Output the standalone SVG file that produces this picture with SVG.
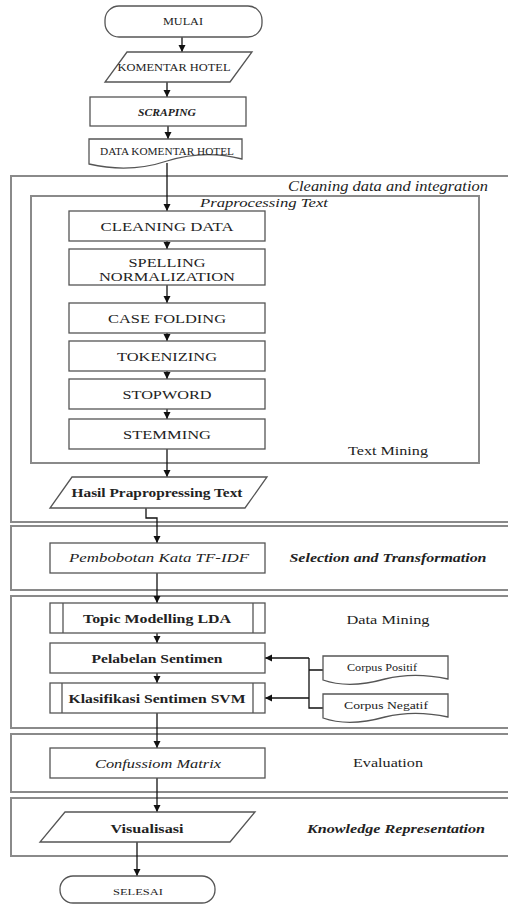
<svg xmlns="http://www.w3.org/2000/svg" width="508" height="904" viewBox="0 0 508 904">
<defs>
<style>
.frame{fill:none;stroke:#8a8a8a;stroke-width:2}
.box{fill:#fff;stroke:#555;stroke-width:1.3}
.t{font-family:"Liberation Serif","Times New Roman",serif;fill:#222;text-anchor:middle}
.b{font-weight:bold}
.i{font-style:italic}
.c{fill:none;stroke:#111;stroke-width:1.3}
</style>
<marker id="ah" markerUnits="userSpaceOnUse" markerWidth="8" markerHeight="8" refX="7" refY="4" orient="auto">
<path d="M0,0.5 L7,4 L0,7.5 Z" fill="#111"/>
</marker>
</defs>
<rect width="508" height="904" fill="#fff"/>

<g id="frames">
<rect class="frame" x="11" y="176" width="510" height="346"/>
<rect class="frame" x="31" y="196" width="448" height="267"/>
<rect class="frame" x="11" y="526" width="510" height="64"/>
<rect class="frame" x="11" y="596" width="510" height="132"/>
<rect class="frame" x="11" y="734" width="510" height="58"/>
<rect class="frame" x="11" y="798" width="510" height="58"/>
<text class="t i" x="388" y="191" font-size="14" textLength="200" lengthAdjust="spacingAndGlyphs">Cleaning data and integration</text>
<rect x="198" y="197" width="132" height="11" fill="#fff"/>
<text class="t i" x="264" y="207" font-size="13.5" textLength="128" lengthAdjust="spacingAndGlyphs">Praprocessing Text</text>
<text class="t" x="388" y="455" font-size="13" textLength="80" lengthAdjust="spacingAndGlyphs">Text Mining</text>
<text class="t i b" x="388" y="562" font-size="13" textLength="197" lengthAdjust="spacingAndGlyphs">Selection and Transformation</text>
<text class="t" x="388" y="624" font-size="13" textLength="83" lengthAdjust="spacingAndGlyphs">Data Mining</text>
<text class="t" x="388" y="767" font-size="13" textLength="70" lengthAdjust="spacingAndGlyphs">Evaluation</text>
<text class="t i b" x="396" y="833" font-size="13" textLength="178" lengthAdjust="spacingAndGlyphs">Knowledge Representation</text>
</g>

<g id="connectors">
<line class="c" x1="182" y1="37" x2="182" y2="52" marker-end="url(#ah)"/>
<line class="c" x1="167" y1="82" x2="167" y2="97" marker-end="url(#ah)"/>
<line class="c" x1="168" y1="126" x2="168" y2="139" marker-end="url(#ah)"/>
<line class="c" x1="167" y1="163" x2="167" y2="211" marker-end="url(#ah)"/>
<line class="c" x1="167" y1="241" x2="167" y2="249" marker-end="url(#ah)"/>
<line class="c" x1="167" y1="285" x2="167" y2="303" marker-end="url(#ah)"/>
<line class="c" x1="167" y1="333" x2="167" y2="341" marker-end="url(#ah)"/>
<line class="c" x1="167" y1="371" x2="167" y2="379" marker-end="url(#ah)"/>
<line class="c" x1="167" y1="409" x2="167" y2="419" marker-end="url(#ah)"/>
<line class="c" x1="167" y1="449" x2="167" y2="477" marker-end="url(#ah)"/>
<path class="c" d="M146,508 V518 H157 V543" marker-end="url(#ah)"/>
<line class="c" x1="157" y1="573" x2="157" y2="603" marker-end="url(#ah)"/>
<line class="c" x1="157" y1="633" x2="157" y2="643" marker-end="url(#ah)"/>
<line class="c" x1="157" y1="673" x2="157" y2="683" marker-end="url(#ah)"/>
<line class="c" x1="157" y1="713" x2="157" y2="748" marker-end="url(#ah)"/>
<line class="c" x1="157" y1="778" x2="157" y2="812" marker-end="url(#ah)"/>
<line class="c" x1="137" y1="842" x2="137" y2="876" marker-end="url(#ah)"/>
<path class="c" d="M309,658 V708 H323 M309,670 H323"/>
<line class="c" x1="309" y1="658" x2="265" y2="658" marker-end="url(#ah)"/>
<line class="c" x1="309" y1="698" x2="265" y2="698" marker-end="url(#ah)"/>
</g>

<g id="mulai">
<rect class="box" x="105" y="6" width="157" height="31" rx="14"/>
<text class="t" x="183" y="25" font-size="9.5" textLength="40" lengthAdjust="spacingAndGlyphs">MULAI</text>
</g>
<g id="komentar-hotel">
<polygon class="box" points="127,52 252,52 230,82 105,82"/>
<text class="t" x="174" y="71" font-size="10" textLength="113" lengthAdjust="spacingAndGlyphs">KOMENTAR HOTEL</text>
</g>
<g id="scraping">
<rect class="box" x="90" y="97" width="156" height="29"/>
<text class="t i b" x="167" y="115.5" font-size="10" textLength="58" lengthAdjust="spacingAndGlyphs">SCRAPING</text>
</g>
<g id="data-komentar">
<path class="box" d="M89,139 H242 V159 C215,152 192,153 167,161 C140,170 115,170 89,164 Z"/>
<text class="t" x="167" y="155" font-size="9.5" textLength="134" lengthAdjust="spacingAndGlyphs">DATA KOMENTAR HOTEL</text>
</g>

<g id="cleaning-data">
<rect class="box" x="69" y="211" width="196" height="30"/>
<text class="t" x="167" y="230.5" font-size="13" textLength="133" lengthAdjust="spacingAndGlyphs">CLEANING DATA</text>
</g>
<g id="spelling">
<rect class="box" x="69" y="249" width="196" height="36"/>
<text class="t" x="167" y="267" font-size="13" textLength="77" lengthAdjust="spacingAndGlyphs">SPELLING</text>
<text class="t" x="167" y="281" font-size="13" textLength="136" lengthAdjust="spacingAndGlyphs">NORMALIZATION</text>
</g>
<g id="case-folding">
<rect class="box" x="69" y="303" width="196" height="30"/>
<text class="t" x="167" y="322.5" font-size="13" textLength="118" lengthAdjust="spacingAndGlyphs">CASE FOLDING</text>
</g>
<g id="tokenizing">
<rect class="box" x="69" y="341" width="196" height="30"/>
<text class="t" x="167" y="360.5" font-size="13" textLength="100" lengthAdjust="spacingAndGlyphs">TOKENIZING</text>
</g>
<g id="stopword">
<rect class="box" x="69" y="379" width="196" height="30"/>
<text class="t" x="167" y="399" font-size="13" textLength="89" lengthAdjust="spacingAndGlyphs">STOPWORD</text>
</g>
<g id="stemming">
<rect class="box" x="69" y="419" width="196" height="30"/>
<text class="t" x="167" y="438.5" font-size="13" textLength="88" lengthAdjust="spacingAndGlyphs">STEMMING</text>
</g>

<g id="hasil">
<polygon class="box" points="72,477 267,477 245,508 50,508"/>
<text class="t b" x="157" y="497" font-size="13" textLength="171" lengthAdjust="spacingAndGlyphs">Hasil Prapropressing Text</text>
</g>
<g id="pembobotan">
<rect class="box" x="50" y="543" width="215" height="30"/>
<text class="t i" x="159" y="562" font-size="13" textLength="180" lengthAdjust="spacingAndGlyphs">Pembobotan Kata TF-IDF</text>
</g>
<g id="topic-modelling">
<rect class="box" x="50" y="603" width="215" height="30"/>
<line class="box" x1="63" y1="603" x2="63" y2="633"/>
<line class="box" x1="253" y1="603" x2="253" y2="633"/>
<text class="t b" x="157" y="623" font-size="13" textLength="148" lengthAdjust="spacingAndGlyphs">Topic Modelling LDA</text>
</g>
<g id="pelabelan">
<rect class="box" x="50" y="643" width="215" height="30"/>
<text class="t b" x="157" y="663" font-size="13" textLength="131" lengthAdjust="spacingAndGlyphs">Pelabelan Sentimen</text>
</g>
<g id="klasifikasi">
<rect class="box" x="50" y="683" width="215" height="30"/>
<line class="box" x1="62" y1="683" x2="62" y2="713"/>
<line class="box" x1="253" y1="683" x2="253" y2="713"/>
<text class="t b" x="157" y="703" font-size="13" textLength="177" lengthAdjust="spacingAndGlyphs">Klasifikasi Sentimen SVM</text>
</g>
<g id="corpus-positif">
<path class="box" d="M323,656 H448 V679 C425,674 405,674 385,679 C360,686 340,686 323,680 Z"/>
<text class="t" x="382" y="671" font-size="10" textLength="70" lengthAdjust="spacingAndGlyphs">Corpus Positif</text>
</g>
<g id="corpus-negatif">
<path class="box" d="M323,694 H448 V717 C425,712 405,712 385,717 C360,724 340,724 323,718 Z"/>
<text class="t" x="386" y="709" font-size="10" textLength="84" lengthAdjust="spacingAndGlyphs">Corpus Negatif</text>
</g>
<g id="confussion">
<rect class="box" x="50" y="748" width="215" height="30"/>
<text class="t i" x="158" y="767.5" font-size="13" textLength="126" lengthAdjust="spacingAndGlyphs">Confussiom Matrix</text>
</g>
<g id="visualisasi">
<polygon class="box" points="65,812 255,812 230,842 40,842"/>
<text class="t b" x="147" y="833" font-size="13" textLength="73" lengthAdjust="spacingAndGlyphs">Visualisasi</text>
</g>
<g id="selesai">
<rect class="box" x="60" y="876" width="155" height="27" rx="13"/>
<text class="t" x="138" y="895" font-size="9" textLength="50" lengthAdjust="spacingAndGlyphs">SELESAI</text>
</g>
</svg>
